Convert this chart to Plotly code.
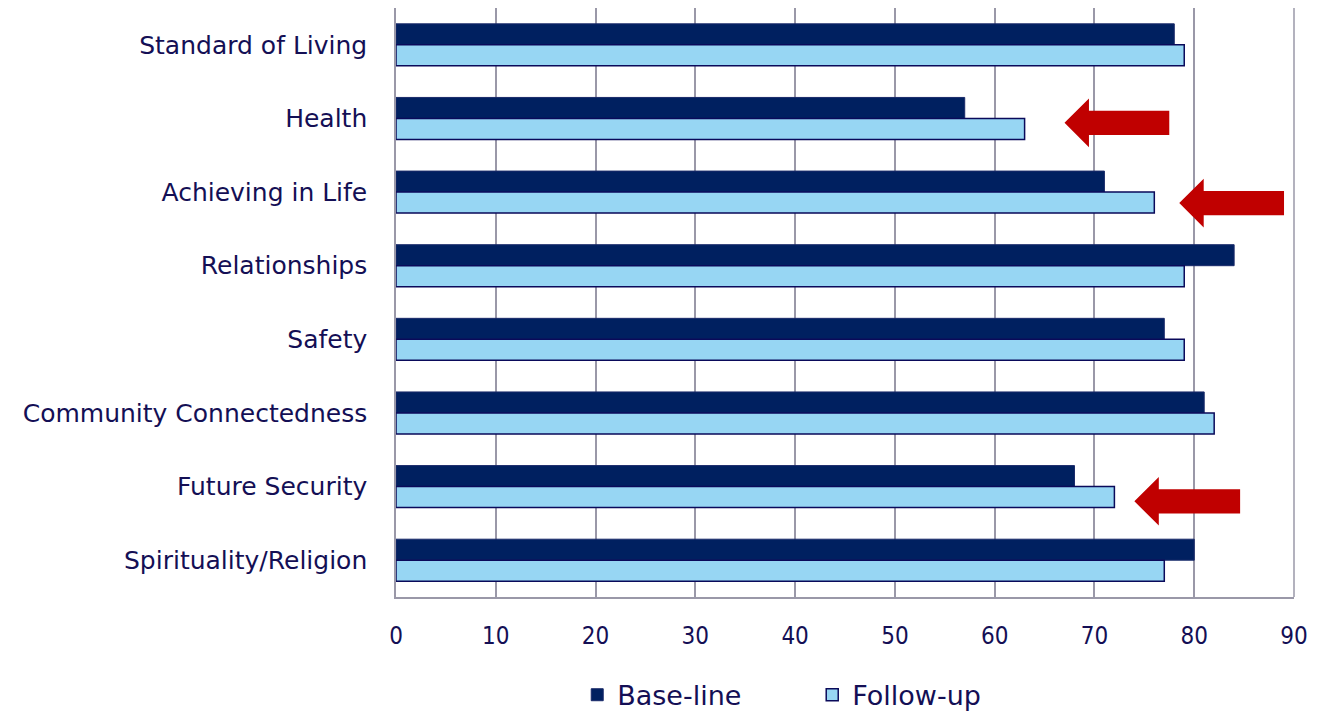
import plotly.graph_objects as go

categories = ["Standard of Living", "Health", "Achieving in Life", "Relationships",
              "Safety", "Community Connectedness", "Future Security", "Spirituality/Religion"]
baseline = [78, 57, 71, 84, 77, 81, 68, 80]
followup = [79, 63, 76, 79, 79, 82, 72, 77]
x_ticks = [0, 10, 20, 30, 40, 50, 60, 70, 80, 90]

# highlight arrows: (category index offset, tip x, end x)
arrow_cat = [1.06, 2.15, 6.2]
arrow_tip = [67, 78.5, 74]
arrow_end = [77.5, 89, 84.6]

TXT = "#140f55"
FONT = "DejaVu Sans"
NARROW = "Liberation Sans Narrow, DejaVu Sans Condensed, DejaVu Sans"
idx = list(range(len(categories)))

fig = go.Figure()
fig.add_trace(go.Bar(y=idx, x=baseline, orientation="h", name="Base-line",
                     marker=dict(color="#002060", line=dict(color="#1a2a6a", width=1))))
fig.add_trace(go.Bar(y=idx, x=followup, orientation="h", name="Follow-up",
                     marker=dict(color="#97d6f3", line=dict(color="#0a0a5a", width=1.5))))

shapes = []
for c, t, e in zip(arrow_cat, arrow_tip, arrow_end):
    hb = t + 2.45
    path = (f"M {t} {c} L {hb} {c-0.33} L {hb} {c-0.165} L {e} {c-0.165} "
            f"L {e} {c+0.165} L {hb} {c+0.165} L {hb} {c+0.33} Z")
    shapes.append(dict(type="path", xref="x", yref="y", path=path,
                       fillcolor="#c00000", line=dict(width=0), layer="above"))

fig.update_layout(
    width=1330, height=713,
    margin=dict(l=396, r=36, t=8, b=116),
    paper_bgcolor="white", plot_bgcolor="white",
    barmode="group", bargap=0.43, bargroupgap=0,
    font=dict(family=FONT, color=TXT),
    shapes=shapes,
    showlegend=True,
    legend=dict(orientation="h", xref="container", x=0.434, xanchor="left",
                yref="container", y=0.025, yanchor="middle",
                font=dict(size=27, color=TXT, family=FONT), itemwidth=30,
                entrywidth=190, traceorder="normal"),
    xaxis=dict(range=[0, 90], tickvals=x_ticks, showgrid=True, gridcolor="#9a98a8",
               gridwidth=1.5, zeroline=False, showline=True, linecolor="#9a98a8",
               linewidth=1.5, mirror=False, ticks="", tickfont=dict(size=24, color=TXT, family=NARROW),
               ticklabelstandoff=16, automargin=False),
    yaxis=dict(tickvals=idx, ticktext=categories, range=[7.5, -0.5],
               showgrid=False, zeroline=False, showline=True, linecolor="#9a98a8",
               linewidth=1.5, ticks="", tickfont=dict(size=25, color=TXT),
               ticklabelstandoff=22, automargin=False),
)
# right border
fig.add_shape(type="line", xref="paper", yref="paper", x0=1, x1=1, y0=0, y1=1,
              line=dict(color="#9a98a8", width=1.5))

fig.write_html("out.html")
